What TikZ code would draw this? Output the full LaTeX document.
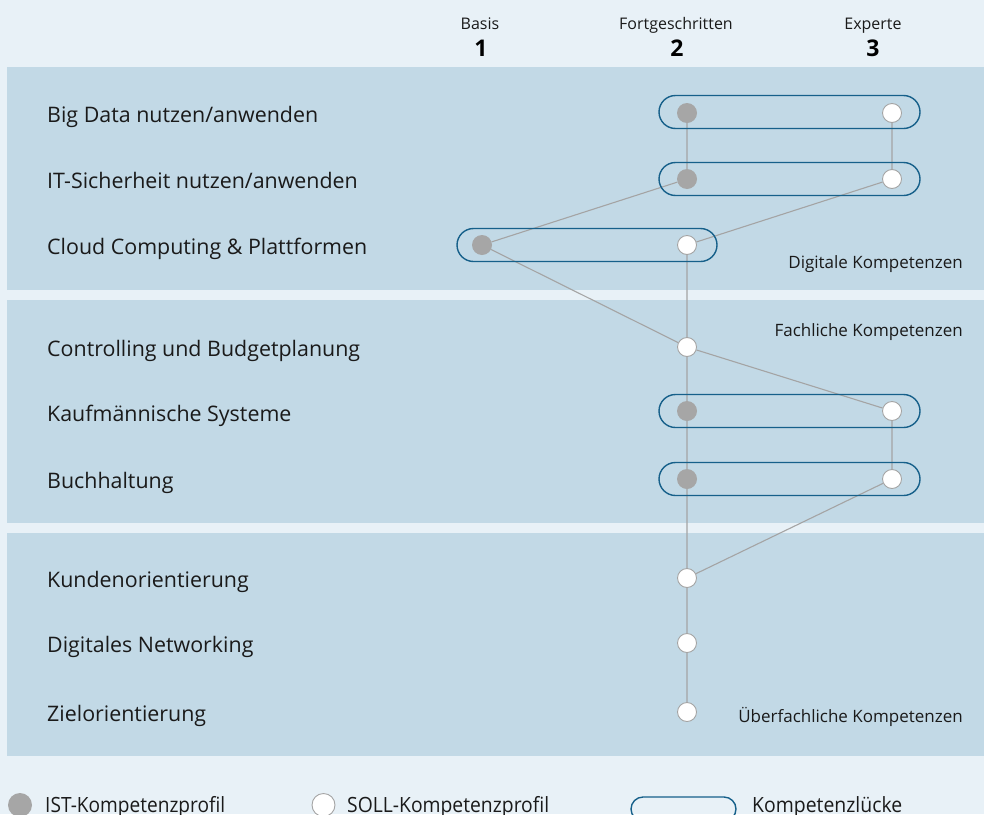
\documentclass[tikz,border=0pt]{standalone}
\usepackage{fontspec}
\usepackage{graphicx}
\setmainfont{Open Sans}
\usetikzlibrary{shapes.misc}
\definecolor{bgc}{HTML}{E8F1F7}
\definecolor{panel}{HTML}{C2D9E6}
\definecolor{capc}{HTML}{16608A}
\definecolor{linec}{HTML}{A4A4A4}
\definecolor{istc}{HTML}{A6A6A6}
\definecolor{txt}{HTML}{1A1A1A}
\pgfdeclarelayer{bg}\pgfdeclarelayer{lines}
\pgfsetlayers{bg,lines,main}
\newcommand\fitw[2]{\resizebox{#1}{\height}{#2}}
\begin{document}
\begin{tikzpicture}[x=1pt,y=-1pt,
  ist/.style={circle, fill=istc, minimum size=20pt, inner sep=0pt},
  soll/.style={circle, fill=white, draw=linec, line width=0.9pt, minimum size=19pt, inner sep=0pt},
  gap/.style={rounded rectangle, draw=capc, line width=1.4pt, minimum height=33pt, inner sep=0pt},
  lbl/.style={anchor=base west, inner sep=0pt, font=\fontsize{21.4}{25}\selectfont, text=txt},
  sec/.style={anchor=base east, inner sep=0pt, font=\fontsize{17}{20}\selectfont, text=txt},
  hdr/.style={anchor=base, inner sep=0pt, font=\fontsize{16}{19}\selectfont, text=txt},
  num/.style={anchor=base, inner sep=0pt, font=\fontsize{23}{26}\bfseries\selectfont, text=black},
  leg/.style={anchor=base west, inner sep=0pt, font=\fontsize{21}{25}\selectfont, text=txt},
  conn/.style={draw=linec, line width=1.1pt}]
\clip (0,0) rectangle (984,814);
\useasboundingbox (0,0) rectangle (984,814);
\begin{pgfonlayer}{bg}
  \fill[bgc] (0,0) rectangle (984,814);
  \fill[panel] (7,67) rectangle (984,290);
  \fill[panel] (7,300) rectangle (984,523);
  \fill[panel] (7,533) rectangle (984,756);
\end{pgfonlayer}

% header
\node[hdr] (h1) at (480,29) {Basis};
\node[hdr] (h2) at (676,29) {Fortgeschritten};
\node[hdr] (h3) at (873,29) {Experte};
\node[num] (n1) at (481,56) {1};
\node[num] (n2) at (677,56) {2};
\node[num] (n3) at (873,56) {3};

% row labels
\node[lbl] (l1) at (47,122) {Big Data nutzen/anwenden};
\node[lbl] (l2) at (47,188) {IT-Sicherheit nutzen/anwenden};
\node[lbl] (l3) at (47,254) {Cloud Computing \& Plattformen};
\node[lbl] (l4) at (47,356) {Controlling und Budgetplanung};
\node[lbl] (l5) at (47,421) {Kaufmännische Systeme};
\node[lbl] (l6) at (47,488) {Buchhaltung};
\node[lbl] (l7) at (47,587) {Kundenorientierung};
\node[lbl] (l8) at (47,652) {Digitales Networking};
\node[lbl] (l9) at (47,721) {Zielorientierung};

% section labels
\node[sec] (s1) at (963,268) {Digitale Kompetenzen};
\node[sec] (s2) at (963,336) {Fachliche Kompetenzen};
\node[sec] (s3) at (963,722) {Überfachliche Kompetenzen};

% gap capsules
\node[gap, minimum width=261pt] (g1) at (789.5,112) {};
\node[gap, minimum width=261pt] (g2) at (789.5,179) {};
\node[gap, minimum width=260pt] (g3) at (587,245) {};
\node[gap, minimum width=261pt] (g5) at (789.5,411) {};
\node[gap, minimum width=261pt] (g6) at (789.5,479) {};

% IST points
\node[ist] (bdI) at (687,113) {};
\node[ist] (itI) at (687,179) {};
\node[ist] (clI) at (482,245) {};
\node[ist] (kaI) at (687,411) {};
\node[ist] (buI) at (687,479) {};
% SOLL points
\node[soll] (bdS) at (892,113) {};
\node[soll] (itS) at (892,179) {};
\node[soll] (clS) at (687,245) {};
\node[soll] (coS) at (687,347) {};
\node[soll] (kaS) at (892,411) {};
\node[soll] (buS) at (892,479) {};
\node[soll] (kuS) at (687,578) {};
\node[soll] (diS) at (687,643) {};
\node[soll] (ziS) at (687,712) {};

\begin{pgfonlayer}{lines}
  \draw[conn] (bdI) -- (itI) -- (clI) -- (coS) -- (kaI) -- (buI) -- (kuS) -- (diS) -- (ziS);
  \draw[conn] (bdS) -- (itS) -- (clS) -- (coS) -- (kaS) -- (buS) -- (kuS);
\end{pgfonlayer}

% legend
\node[ist, minimum size=24pt] (lgI) at (20,805) {};
\node[leg] (lgIt) at (45,812) {\fitw{180pt}{IST-Kompetenzprofil}};
\node[soll, minimum size=23pt] (lgS) at (323.5,805) {};
\node[leg] (lgSt) at (347,812) {\fitw{202pt}{SOLL-Kompetenzprofil}};
\node[gap, minimum width=105pt, minimum height=24pt] (lgG) at (683.5,809) {};
\node[leg] (lgGt) at (752,812) {\fitw{150pt}{Kompetenzlücke}};
\end{tikzpicture}
\end{document}
